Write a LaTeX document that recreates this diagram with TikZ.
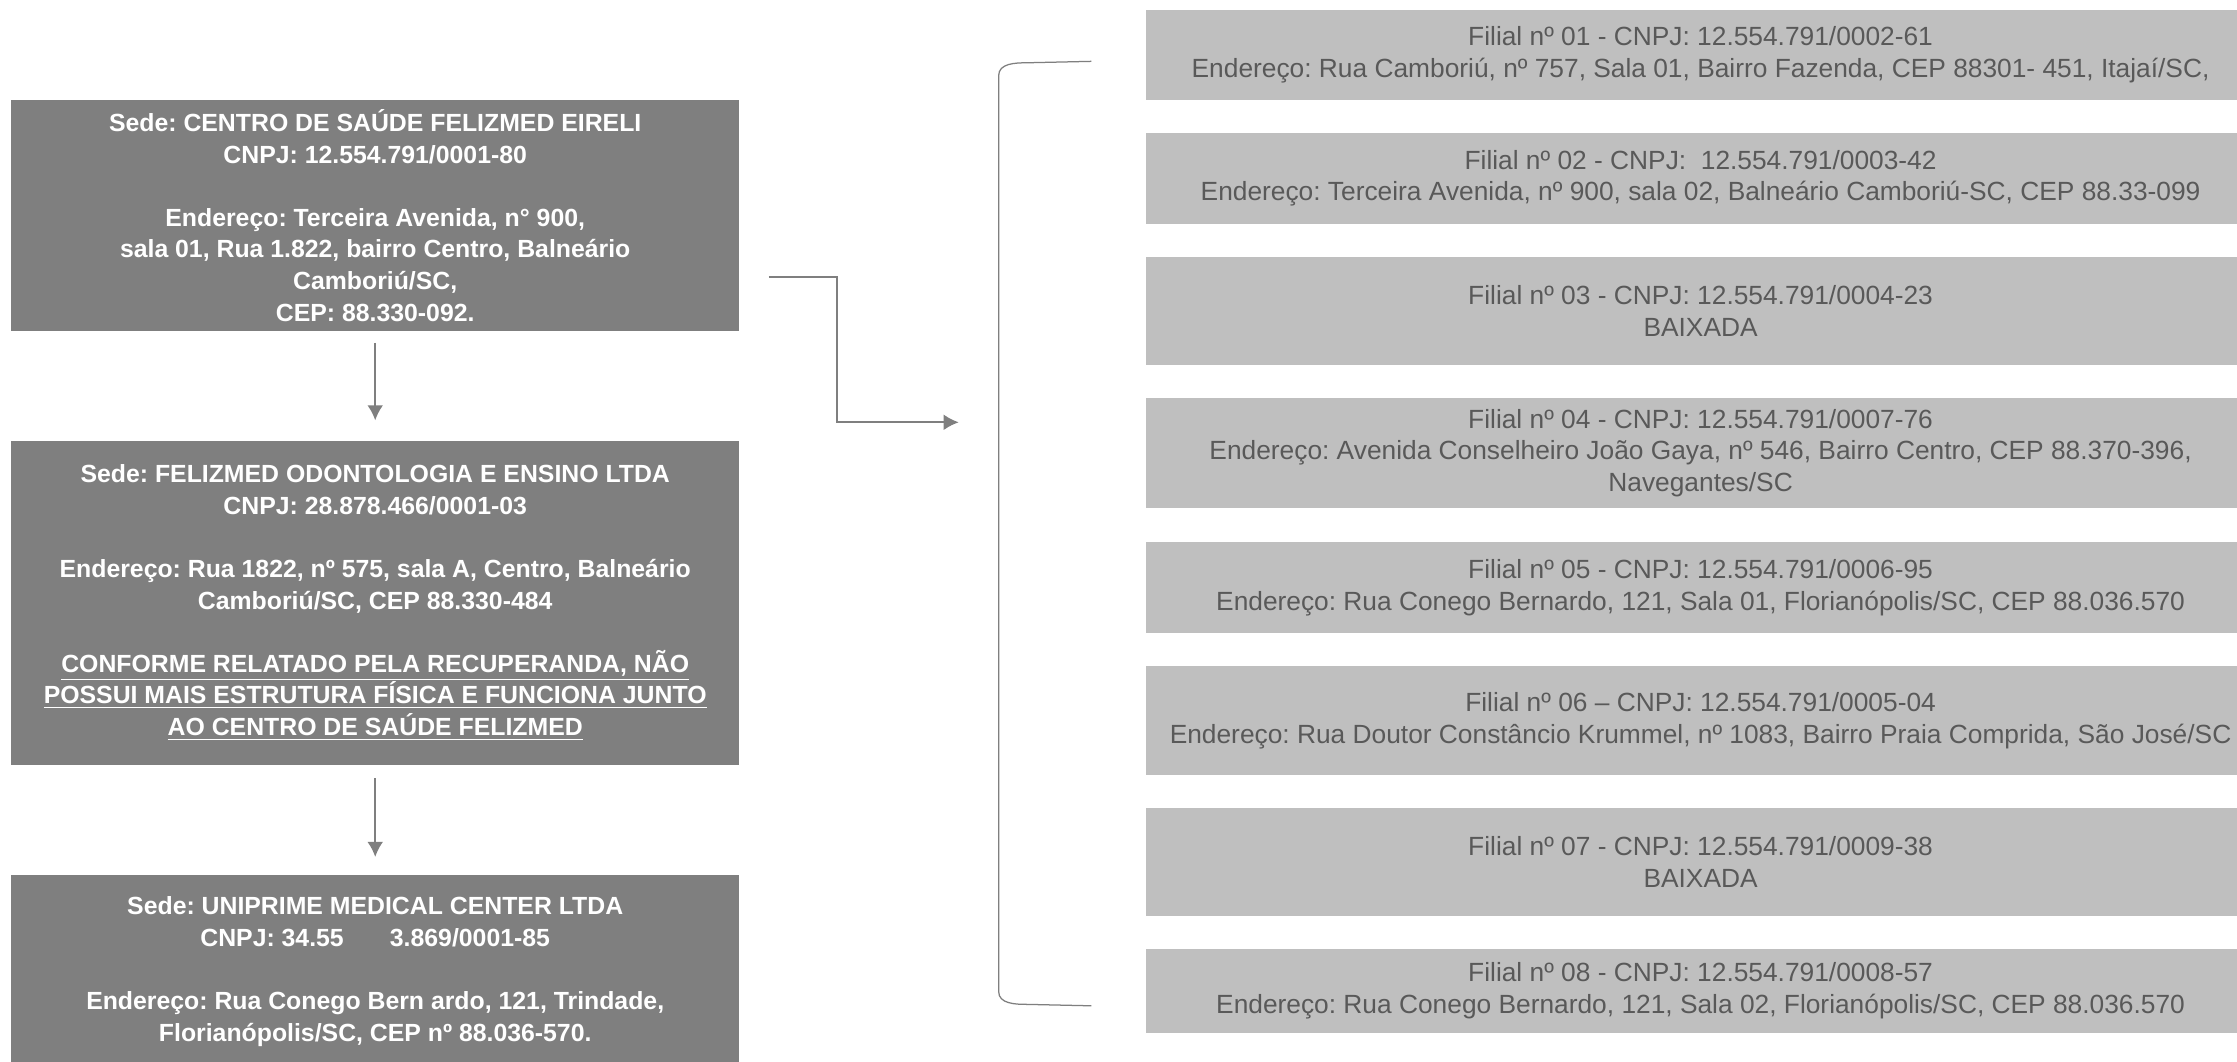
\documentclass[tikz,border=0pt]{standalone}
\usepackage{fontspec}
\setmainfont{Liberation Sans}
\usetikzlibrary{arrows.meta,calc}
\frenchspacing
\definecolor{sedegray}{HTML}{7F7F7F}
\definecolor{filialgray}{HTML}{BFBFBF}
\definecolor{filialtext}{HTML}{595959}
\tikzset{
  bg/.style = {fill=white,draw=none},
  sede/.style = {rectangle,fill=sedegray,draw=none,text=white,align=center,inner sep=0pt,minimum width=10.2cm,font=\fontsize{9.9}{12.6}\selectfont\bfseries},
  filial/.style = {rectangle,fill=filialgray,draw=none,text=filialtext,align=center,inner sep=0pt,minimum width=15.56cm,font=\fontsize{10.5}{12.6}\selectfont},
  %
  edge/.style = {->,>={Latex[length=6pt,width=6.3pt]},line width=0.8pt,draw=sedegray},
  bracket/.style = {line width=0.5pt,draw=sedegray},
}

\begin{document}
\begin{tikzpicture}
    \clip (0,0) rectangle (31.36,14.88);
    \fill[bg] (0,0) rectangle (31.36,14.88);

    \node[sede,minimum height=3.24cm] at (5.26,11.86) (sede1) {Sede: CENTRO DE SAÚDE FELIZMED EIRELI\\CNPJ: 12.554.791/0001-80\\[12.6pt]Endereço: Terceira Avenida, n° 900,\\sala 01, Rua 1.822, bairro Centro, Balneário\\Camboriú/SC,\\CEP: 88.330-092.};
    \node[sede,minimum height=4.54cm] at (5.26,6.43) (sede2) {Sede: FELIZMED ODONTOLOGIA E ENSINO LTDA\\CNPJ: 28.878.466/0001-03\\[12.6pt]Endereço: Rua 1822, nº 575, sala A, Centro, Balneário\\Camboriú/SC, CEP 88.330-484\\[12.6pt]\underline{CONFORME RELATADO PELA RECUPERANDA, NÃO}\\\underline{POSSUI MAIS ESTRUTURA FÍSICA E FUNCIONA JUNTO}\\\underline{AO CENTRO DE SAÚDE FELIZMED}};
    \node[sede,minimum height=2.72cm] at (5.26,1.26) (sede3) {Sede: UNIPRIME MEDICAL CENTER LTDA\\CNPJ: 34.55\hspace{0.55cm} 3.869/0001-85\\[12.6pt]Endereço: Rua Conego Bern ardo, 121, Trindade,\\Florianópolis/SC, CEP nº 88.036-570.};

    \node[filial,minimum height=1.26cm] at (23.84,14.11) (f1) {Filial nº 01 - CNPJ: 12.554.791/0002-61\\Endereço: Rua Camboriú, nº 757, Sala 01, Bairro Fazenda, CEP 88301- 451, Itajaí/SC,};
    \node[filial,minimum height=1.28cm] at (23.84,12.38) (f2) {Filial nº 02 - CNPJ:\ \ 12.554.791/0003-42\\Endereço: Terceira Avenida, nº 900, sala 02, Balneário Camboriú-SC, CEP 88.33-099};
    \node[filial,minimum height=1.52cm] at (23.84,10.52) (f3) {Filial nº 03 - CNPJ: 12.554.791/0004-23\\BAIXADA};
    \node[filial,minimum height=1.54cm] at (23.84,8.53) (f4) {Filial nº 04 - CNPJ: 12.554.791/0007-76\\Endereço: Avenida Conselheiro João Gaya, nº 546, Bairro Centro, CEP 88.370-396,\\Navegantes/SC};
    \node[filial,minimum height=1.28cm] at (23.84,6.64) (f5) {Filial nº 05 - CNPJ: 12.554.791/0006-95\\Endereço: Rua Conego Bernardo, 121, Sala 01, Florianópolis/SC, CEP 88.036.570};
    \node[filial,minimum height=1.52cm] at (23.84,4.78) (f6) {Filial nº 06 – CNPJ: 12.554.791/0005-04\\Endereço: Rua Doutor Constâncio Krummel, nº 1083, Bairro Praia Comprida, São José/SC};
    \node[filial,minimum height=1.52cm] at (23.84,2.80) (f7) {Filial nº 07 - CNPJ: 12.554.791/0009-38\\BAIXADA};
    \node[filial,minimum height=1.18cm] at (23.84,0.99) (f8) {Filial nº 08 - CNPJ: 12.554.791/0008-57\\Endereço: Rua Conego Bernardo, 121, Sala 02, Florianópolis/SC, CEP 88.036.570};

    \draw[edge] ([yshift=-0.16cm]sede1.south) to ([yshift=0.28cm]sede2.north);
    \draw[edge] ([yshift=-0.18cm]sede2.south) to ([yshift=0.24cm]sede3.north);

    \coordinate (out) at (10.78,11.0);
    \coordinate (in) at (13.44,8.96);
    \draw[edge] (out) -- ++(0.96,0) |- (in);

    \coordinate (brtop) at (15.3,14.02);
    \coordinate (brbot) at (15.3,0.78);
    \draw[bracket] (brtop) -- (14.4,14.0) to[out=180,in=90] (14.0,13.82) -- (14.0,0.98) to[out=-90,in=180] (14.4,0.8) -- (brbot);

\end{tikzpicture}
\end{document}
